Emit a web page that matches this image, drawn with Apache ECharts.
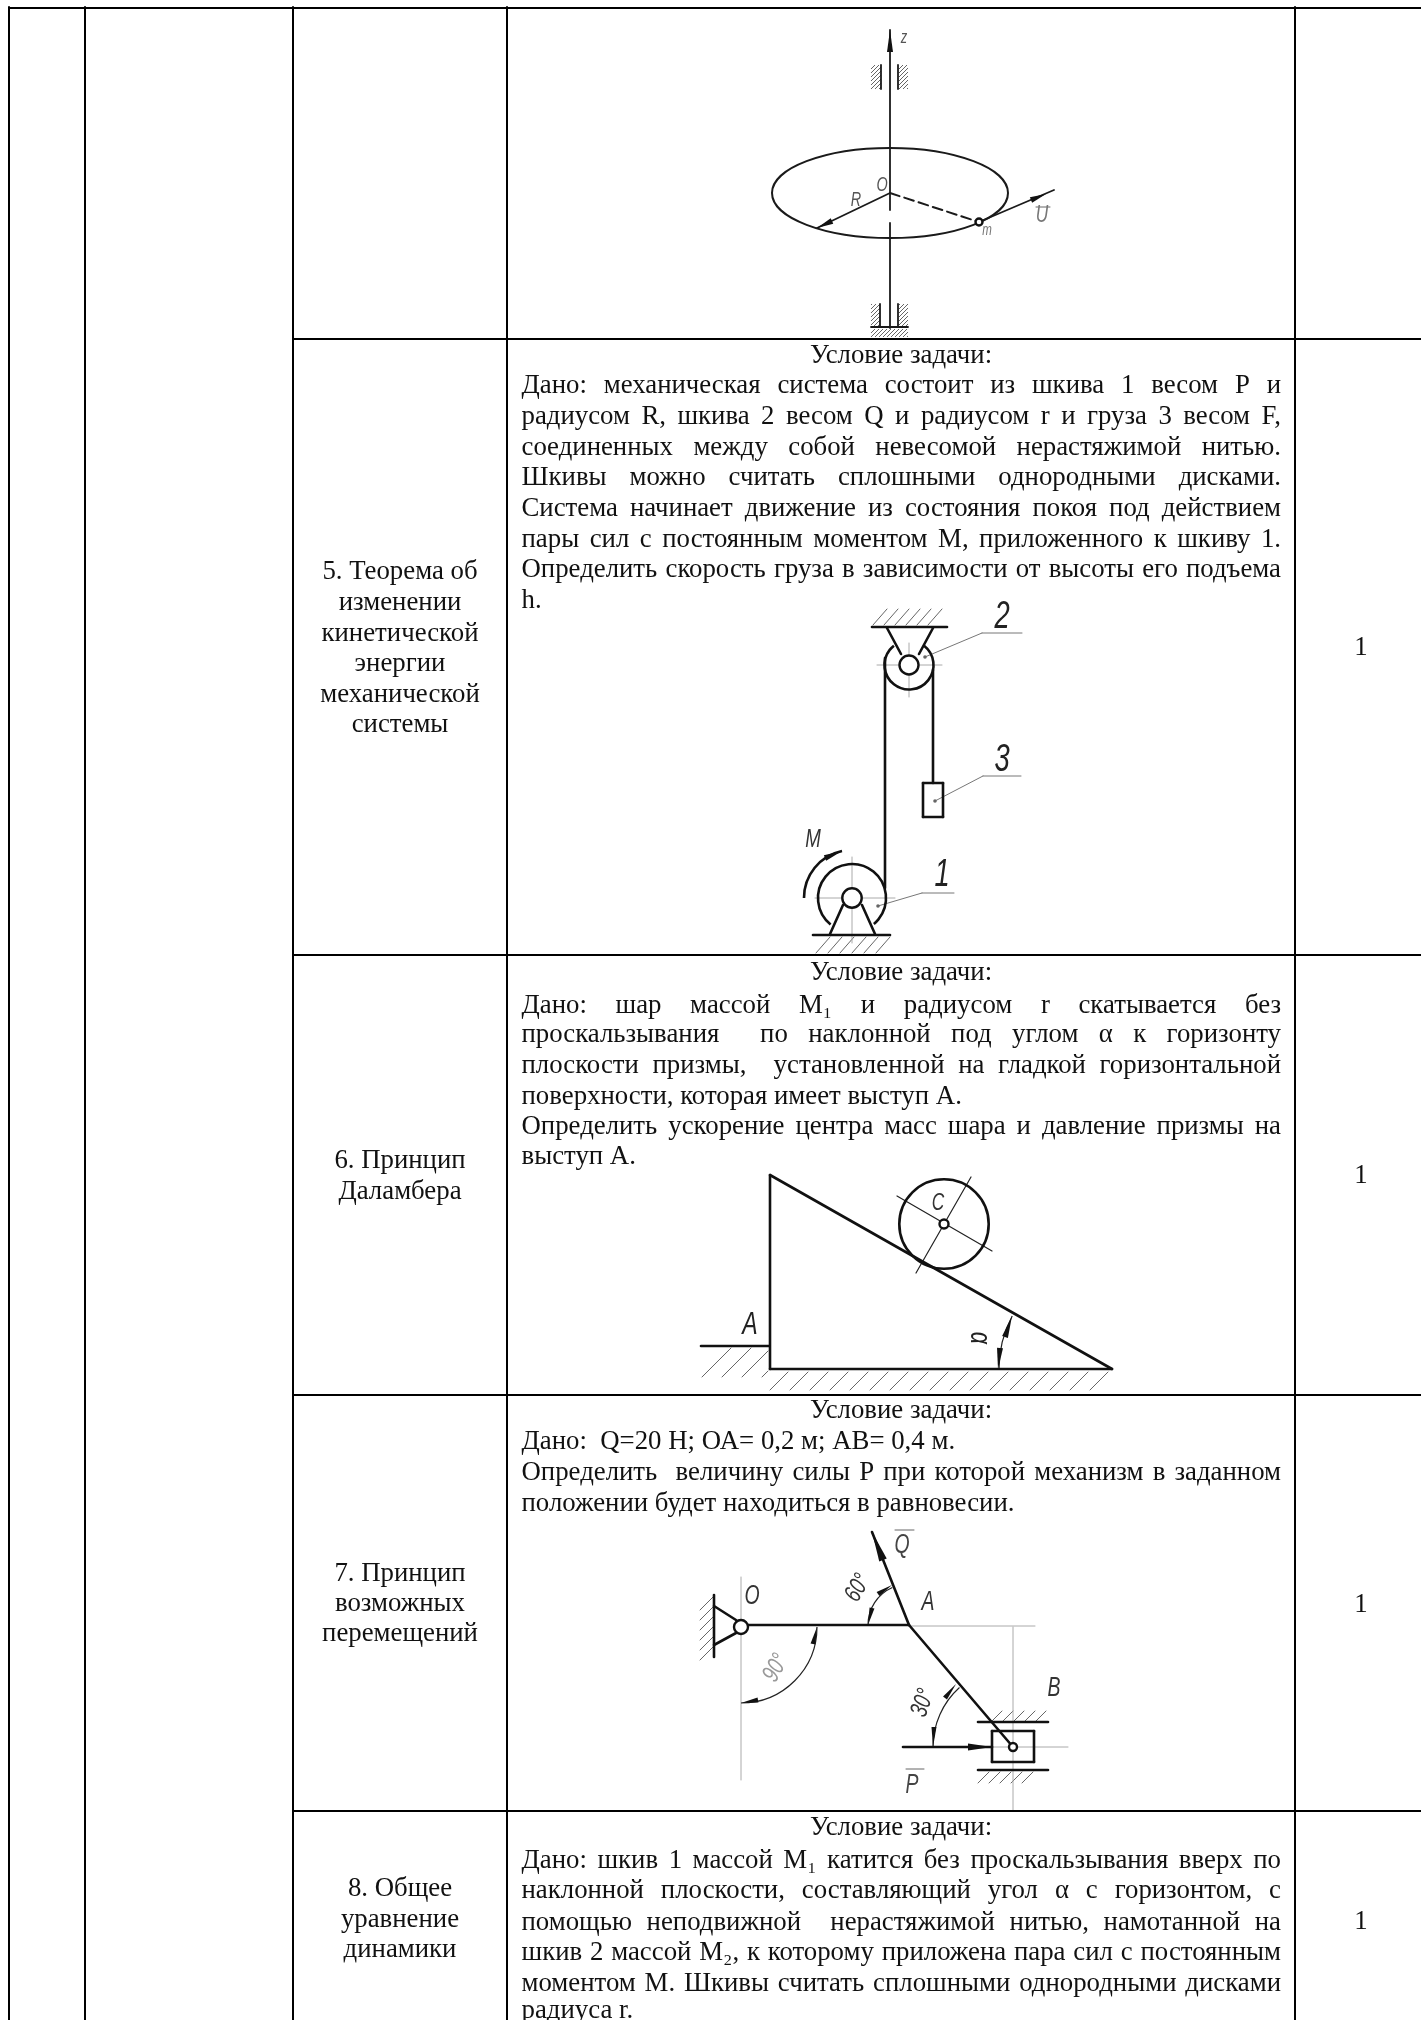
<!DOCTYPE html>
<html>
<head>
<meta charset="utf-8">
<title>Таблица задач</title>
<style>
html, body { margin: 0; padding: 0; background: #fff; }
#main { width: 1421px; height: 2020px; }
</style>
<script src="https://cdn.jsdelivr.net/npm/echarts@6/dist/echarts.min.js"></script>
</head>
<body>
<div id="main"></div>
<script>
// text of the table
var conditionTitle = 'Условие задачи:';
var row5Lines = [
    'Дано: механическая система состоит из шкива 1 весом Р и',
    'радиусом R, шкива 2 весом Q и радиусом r и груза 3 весом F,',
    'соединенных между собой невесомой нерастяжимой нитью.',
    'Шкивы можно считать сплошными однородными дисками.',
    'Система начинает движение из состояния покоя под действием',
    'пары сил с постоянным моментом М, приложенного к шкиву 1.',
    'Определить скорость груза в зависимости от высоты его подъема',
    'h.'
];
var row6Lines = [
    'Дано: шар массой М₁ и радиусом r скатывается без',
    'проскальзывания  по наклонной под углом α к горизонту',
    'плоскости призмы,  установленной на гладкой горизонтальной',
    'поверхности, которая имеет выступ А.',
    'Определить ускорение центра масс шара и давление призмы на',
    'выступ А.'
];
var row7Lines = [
    'Дано:  Q=20 Н; ОА= 0,2 м; АВ= 0,4 м.',
    'Определить  величину силы Р при которой механизм в заданном',
    'положении будет находиться в равновесии.'
];
var row8Lines = [
    'Дано: шкив 1 массой М₁ катится без проскальзывания вверх по',
    'наклонной плоскости, составляющий угол α с горизонтом, с',
    'помощью неподвижной  нерастяжимой нитью, намотанной на',
    'шкив 2 массой М₂, к которому приложена пара сил с постоянным',
    'моментом М. Шкивы считать сплошными однородными дисками',
    'радиуса r.'
];
var plainLines = ['h.', 'поверхности, которая имеет выступ А.', 'выступ А.',
    'Дано:  Q=20 Н; ОА= 0,2 м; АВ= 0,4 м.', 'положении будет находиться в равновесии.', 'радиуса r.'];

// y of each text line on the page axis
var titleY = [364, 981, 1419, 1836];
var row5Y = [394, 425, 456, 486, 517, 548, 578, 609];
var row6Y = [1014, 1043, 1074, 1105, 1135, 1165];
var row7Y = [1450, 1481, 1512];
var row8Y = [1869, 1899, 1931, 1961, 1992, 2019];

var topicLines = ['5. Теорема об', 'изменении', 'кинетической', 'энергии', 'механической', 'системы',
    '6. Принцип', 'Даламбера', '7. Принцип', 'возможных', 'перемещений', '8. Общее', 'уравнение', 'динамики'];
var topicY = [580, 611, 642, 672, 703, 733, 1169, 1200, 1582, 1612, 1642, 1897, 1928, 1958];
var hoursY = [656, 1184, 1613, 1930];

// table rules, x1 y1 x2 y2
var tableRules = [
    [9, 8, 1421, 8], [293, 339, 1421, 339], [293, 955, 1421, 955], [293, 1395, 1421, 1395], [293, 1811, 1421, 1811],
    [9, 7, 9, 2020], [85, 7, 85, 2020], [293, 7, 293, 2020], [507, 7, 507, 2020], [1295, 7, 1295, 2020]
];

// drawings: strokes by weight, x1 y1 x2 y2
var heavyStrokes = [
    // pulleys
    [872, 627, 947, 627], [887, 628, 901, 654], [933, 628, 919, 654], [885, 658, 885, 888], [933, 670, 933, 783],
    [923, 783, 943, 783], [943, 783, 943, 817], [943, 817, 923, 817], [923, 817, 923, 783],
    [813, 935, 890, 935], [843, 905, 830, 934], [862, 905, 875, 934],
    // prism
    [770, 1175, 770, 1369], [770, 1369, 1112, 1369], [1112, 1369, 770, 1175], [701, 1346, 769, 1346],
    // mechanism
    [714, 1595, 714, 1657], [714, 1606, 736, 1620], [714, 1645, 736, 1633],
    [748, 1625, 909, 1625], [909, 1625, 872, 1532], [909, 1625, 1013, 1747],
    [978, 1722, 1048, 1722], [978, 1770, 1048, 1770],
    [992, 1731, 1034, 1731], [1034, 1731, 1034, 1762], [1034, 1762, 992, 1762], [992, 1762, 992, 1731],
    [903, 1747, 992, 1747]
];
var mediumStrokes = [
    // shaft and radius
    [890, 30, 890, 210], [890, 223, 890, 328], [881, 65, 881, 89], [898, 65, 898, 89],
    [880, 304, 880, 327], [898, 304, 898, 327], [871, 327, 908, 327],
    [890, 193, 817, 228], [979, 222, 1054, 190]
];
var dashedStrokes = [[890, 193, 979, 222]];
var fineStrokes = [[916, 1273, 971, 1177], [897, 1196, 992, 1251]];
var leaderStrokes = [
    [925, 657, 982, 633], [982, 633, 1022, 633], [935, 801, 983, 776], [983, 776, 1021, 776],
    [878, 906, 922, 893], [922, 893, 954, 893]
];
var centerStrokes = [
    [877, 665, 942, 665], [909, 643, 909, 697], [815, 898, 895, 898], [852, 857, 852, 943],
    [741, 1577, 741, 1780], [909, 1626, 1035, 1626], [1013, 1627, 1013, 1810], [993, 1747, 1068, 1747]
];
var overbars = [[1036, 207, 1050, 207], [895, 1530, 914, 1530], [906, 1769, 924, 1769]];

// hatching strokes, x1 y1 x2 y2
var hatchStrokes = [
    [873, 625, 887, 609], [884, 625, 898, 609], [895, 625, 909, 609], [906, 625, 920, 609], [917, 625, 931, 609], [928, 625, 942, 609],
    [816, 953, 830, 937], [828, 953, 842, 937], [840, 953, 854, 937], [852, 953, 866, 937], [864, 953, 878, 937], [876, 953, 890, 937],
    [702, 1377, 731, 1348], [722, 1377, 751, 1348], [742, 1377, 768, 1351], [762, 1377, 768, 1371],
    [770, 1390, 788, 1372], [790, 1390, 808, 1372], [810, 1390, 828, 1372], [830, 1390, 848, 1372], [850, 1390, 868, 1372],
    [870, 1390, 888, 1372], [890, 1390, 908, 1372], [910, 1390, 928, 1372], [930, 1390, 948, 1372], [950, 1390, 968, 1372],
    [970, 1390, 988, 1372], [990, 1390, 1008, 1372], [1010, 1390, 1028, 1372], [1030, 1390, 1048, 1372], [1050, 1390, 1068, 1372],
    [1070, 1390, 1088, 1372], [1090, 1390, 1108, 1372],
    [700, 1610, 713, 1597], [700, 1620, 713, 1607], [700, 1630, 713, 1617], [700, 1640, 713, 1627], [700, 1650, 713, 1637], [700, 1660, 713, 1647],
    [992, 1721, 1002, 1711], [1003, 1721, 1013, 1711], [1014, 1721, 1024, 1711], [1025, 1721, 1035, 1711], [1036, 1721, 1046, 1711],
    [978, 1783, 989, 1772], [989, 1783, 1000, 1772], [1000, 1783, 1011, 1772], [1011, 1783, 1022, 1772], [1022, 1783, 1033, 1772]
];
// bearing blocks on the shaft, x1 y1 x2 y2
var bearingBlocks = [[871, 65, 881, 89], [899, 65, 908, 89], [871, 304, 880, 326], [899, 304, 908, 326], [871, 329, 908, 337]];

// curves: cx cy r startDeg endDeg
var heavyArcs = [[909, 665, 24.5, -52, 232], [852, 898, 34, 129, 410], [852, 898, 48, 180, 258], [944, 1224, 44.7, 0, 360]];
var fineArcs = [[1112, 1369, 113, 180, 208], [909, 1625, 41, 180, 246], [1013, 1747, 80, 180, 228], [741, 1627, 76, 0, 90]];
// rim of the disc: cx cy rx ry
var discRim = [[890, 193, 118, 45]];
// cx cy r
var openCircles = [[909, 665, 9.5], [852, 898, 9.7], [944, 1224, 4.5], [741, 1627, 7], [1013, 1747, 4], [979, 222, 3.5]];
var dots = [[925, 657, 1.8], [935, 801, 1.8], [878, 906, 1.8]];
// arrow heads: tipX tipY tailX tailY halfWidth
var arrowHeads = [
    [890, 30, 890, 52, 3], [817, 228, 832, 221, 3], [1046, 194, 1031, 200, 3], [842, 851, 825, 858, 3],
    [1012, 1316, 1005, 1337, 3], [998, 1369, 1000, 1348, 3],
    [872, 1532, 883, 1560, 4], [992, 1747, 968, 1747, 3.5],
    [868, 1625, 872, 1608, 2.5], [892, 1585, 878, 1594, 2.5],
    [817, 1627, 813, 1644, 2.5], [741, 1703, 758, 1700, 2.5],
    [956, 1684, 945, 1698, 2.5], [933, 1747, 934, 1727, 2.5]
];

// labels inside the drawings
var labelTexts = ['z', 'O', 'R', 'm', 'U', '2', '3', '1', 'M', 'C', 'A', 'α', 'O', 'A', 'B', 'Q', 'P', '60°', '90°', '30°'];
var labelX = [904, 882, 856, 987, 1042, 1002, 1002, 942, 813, 938, 750, 979, 752, 928, 1054, 902, 912, 858, 776, 923];
var labelY = [38, 185, 200, 231, 215, 617, 760, 875, 840, 1203, 1325, 1338, 1596, 1602, 1688, 1545, 1785, 1588, 1668, 1703];
var labelPx = [18, 20, 20, 16, 24, 38, 38, 38, 26, 24, 32, 30, 27, 27, 27, 27, 27, 25, 25, 25];
var labelTilt = [0, 0, 0, 0, 0, 0, 0, 0, 0, 0, 0, -90, 0, 0, 0, 0, 0, 60, 60, 70];
var labelInk = ['#555', '#555', '#555', '#777', '#777', '#222', '#222', '#222', '#333', '#333', '#222', '#222', '#333', '#333', '#333', '#444', '#444', '#333', '#999', '#333'];

var serif = '"Liberation Serif", "Times New Roman", serif';
var bodyPx = 26.8;
var bodyMiddle = 7.6;  // from baseline to the text's vertical middle
var cellLeft = 521.5, cellRight = 1281, cellMid = 901, topicMid = 400, hoursMid = 1361;

var measure = document.createElement('canvas').getContext('2d');
measure.font = bodyPx + 'px ' + serif;

function hatchPattern() {
    var c = document.createElement('canvas');
    c.width = 4; c.height = 4;
    var g = c.getContext('2d');
    g.fillStyle = '#fff';
    g.fillRect(0, 0, 4, 4);
    g.strokeStyle = '#666';
    g.lineWidth = 1;
    g.beginPath();
    g.moveTo(0, 4); g.lineTo(4, 0);
    g.stroke();
    return { image: c, repeat: 'repeat' };
}

function strokeSeries(rows, ink, width, z, dash) {
    return {
        type: 'custom', data: rows, z: z, silent: true, clip: false, animation: false,
        encode: { x: 0, y: 1 },
        renderItem: function (params, api) {
            var a = api.coord([api.value(0), api.value(1)]);
            var b = api.coord([api.value(2), api.value(3)]);
            return {
                type: 'line',
                shape: { x1: a[0], y1: a[1], x2: b[0], y2: b[1] },
                style: { stroke: ink, lineWidth: width, lineDash: dash || null, lineCap: 'round', fill: null }
            };
        }
    };
}

function arcSeries(rows, ink, width, z) {
    return {
        type: 'custom', data: rows, z: z, silent: true, clip: false, animation: false,
        encode: { x: 0, y: 1 },
        renderItem: function (params, api) {
            var c = api.coord([api.value(0), api.value(1)]);
            return {
                type: 'arc',
                shape: {
                    cx: c[0], cy: c[1], r: api.size([api.value(2), 0])[0],
                    startAngle: api.value(3) * Math.PI / 180, endAngle: api.value(4) * Math.PI / 180, clockwise: true
                },
                style: { stroke: ink, lineWidth: width, fill: null }
            };
        }
    };
}

function circleSeries(rows, ink, width, fill, z) {
    return {
        type: 'custom', data: rows, z: z, silent: true, clip: false, animation: false,
        encode: { x: 0, y: 1 },
        renderItem: function (params, api) {
            var c = api.coord([api.value(0), api.value(1)]);
            return {
                type: 'circle',
                shape: { cx: c[0], cy: c[1], r: api.size([api.value(2), 0])[0] },
                style: { stroke: ink, lineWidth: width, fill: fill }
            };
        }
    };
}

function textRows() {
    var rows = [];
    function add(text, x0, y, x1, mode) { rows.push({ text: text, value: [x0, y, x1], mode: mode }); }
    [row5Lines, row6Lines, row7Lines, row8Lines].forEach(function (lines, r) {
        var ys = [row5Y, row6Y, row7Y, row8Y][r];
        add(conditionTitle, cellMid, titleY[r], cellMid, 'center');
        lines.forEach(function (line, i) {
            add(line, cellLeft, ys[i], cellRight, plainLines.indexOf(line) >= 0 ? 'plain' : 'justify');
        });
    });
    topicLines.forEach(function (line, i) { add(line, topicMid, topicY[i], topicMid, 'center'); });
    hoursY.forEach(function (y) { add('1', hoursMid, y, hoursMid, 'center'); });
    return rows;
}
var bodyRows = textRows();

function bodyWord(text, x, y, align) {
    return {
        type: 'text',
        style: { text: text, x: x, y: y, fill: '#111', font: bodyPx + 'px ' + serif, align: align, verticalAlign: 'middle' }
    };
}

var option = {
    backgroundColor: '#fff',
    animation: false,
    grid: { left: 0, right: 0, top: 0, bottom: 0 },
    xAxis: { type: 'value', min: 0, max: 1421, show: false },
    yAxis: { type: 'value', min: 0, max: 2020, inverse: true, show: false },
    series: [
        strokeSeries(hatchStrokes, '#666', 1, 2),
        {
            type: 'custom', data: bearingBlocks, z: 2, silent: true, clip: false, animation: false,
            encode: { x: 0, y: 1 },
            renderItem: function (params, api) {
                var a = api.coord([api.value(0), api.value(1)]);
                var b = api.coord([api.value(2), api.value(3)]);
                return {
                    type: 'rect',
                    shape: { x: a[0], y: a[1], width: b[0] - a[0], height: b[1] - a[1] },
                    style: { fill: hatchPattern(), stroke: null }
                };
            }
        },
        strokeSeries(centerStrokes, '#aaa', 1, 2),
        strokeSeries(overbars, '#666', 1, 3),
        strokeSeries(leaderStrokes, '#777', 1, 3),
        strokeSeries(fineStrokes, '#222', 1.2, 3),
        arcSeries(fineArcs, '#222', 1.2, 3),
        strokeSeries(mediumStrokes, '#1a1a1a', 1.8, 4),
        strokeSeries(dashedStrokes, '#1a1a1a', 2, 4, [10, 5]),
        strokeSeries(heavyStrokes, '#111', 2.6, 4),
        arcSeries(heavyArcs, '#111', 2.6, 4),
        {
            type: 'custom', data: discRim, z: 4, silent: true, clip: false, animation: false,
            encode: { x: 0, y: 1 },
            renderItem: function (params, api) {
                var c = api.coord([api.value(0), api.value(1)]);
                return {
                    type: 'ellipse',
                    shape: { cx: c[0], cy: c[1], rx: api.size([api.value(2), 0])[0], ry: api.size([0, api.value(3)])[1] },
                    style: { stroke: '#1a1a1a', lineWidth: 2, fill: null }
                };
            }
        },
        circleSeries(openCircles, '#111', 2.4, '#fff', 5),
        circleSeries(dots, '#666', 0, '#666', 5),
        {
            type: 'custom', data: arrowHeads, z: 6, silent: true, clip: false, animation: false,
            encode: { x: 0, y: 1 },
            renderItem: function (params, api) {
                var tip = api.coord([api.value(0), api.value(1)]);
                var tail = api.coord([api.value(2), api.value(3)]);
                var dx = tip[0] - tail[0], dy = tip[1] - tail[1];
                var len = Math.sqrt(dx * dx + dy * dy), hw = api.value(4);
                var nx = -dy / len * hw, ny = dx / len * hw;
                return {
                    type: 'polygon',
                    shape: { points: [tip, [tail[0] + nx, tail[1] + ny], [tail[0] - nx, tail[1] - ny]] },
                    style: { fill: '#111', stroke: null }
                };
            }
        },
        {
            type: 'custom', data: labelTexts.map(function (t, i) { return [labelX[i], labelY[i]]; }), z: 7, silent: true, clip: false, animation: false,
            encode: { x: 0, y: 1 },
            renderItem: function (params, api) {
                var i = params.dataIndex;
                var p = api.coord([api.value(0), api.value(1)]);
                return {
                    type: 'text',
                    x: p[0], y: p[1], rotation: labelTilt[i] * Math.PI / 180, scaleX: 0.72,
                    style: {
                        text: labelTexts[i], x: 0, y: 0, fill: labelInk[i], align: 'center', verticalAlign: 'middle',
                        font: 'italic ' + labelPx[i] + 'px "Liberation Sans", sans-serif'
                    }
                };
            }
        },
        strokeSeries(tableRules, '#000', 2, 8),
        {
            type: 'custom', data: bodyRows, z: 9, silent: true, clip: false, animation: false,
            encode: { x: 0, y: 1 },
            renderItem: function (params, api) {
                var row = bodyRows[params.dataIndex];
                var start = api.coord([api.value(0), api.value(1)]);
                var end = api.coord([api.value(2), api.value(1)]);
                var y = start[1] - bodyMiddle;
                if (row.mode === 'center') return bodyWord(row.text, start[0], y, 'center');
                var words = row.text.split(' ');
                var used = 0;
                words.forEach(function (w) { used += measure.measureText(w).width; });
                var gap = row.mode === 'justify' ? (end[0] - start[0] - used) / (words.length - 1) : measure.measureText(' ').width;
                var x = start[0];
                var kids = [];
                words.forEach(function (w) {
                    if (w) kids.push(bodyWord(w, x, y, 'left'));
                    x += measure.measureText(w).width + gap;
                });
                return { type: 'group', children: kids };
            }
        }
    ]
};

var myChart = echarts.init(document.getElementById('main'));
myChart.setOption(option);
</script>
</body>
</html>
